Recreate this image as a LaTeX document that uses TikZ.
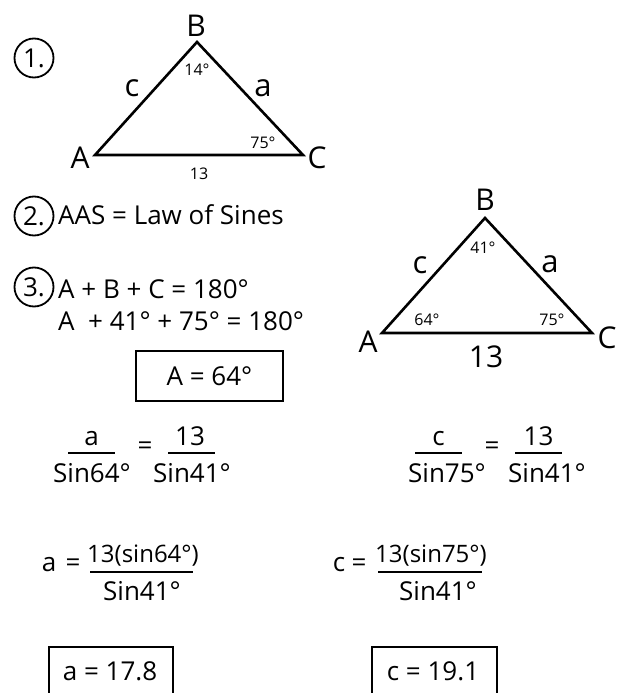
\documentclass[tikz,border=0pt]{standalone}
\usepackage{fontspec}
\setmainfont{Open Sans}

\begin{document}
\begin{tikzpicture}[x=1pt, y=-1pt,
    vtx/.style = {inner sep=0pt, font=\fontsize{30}{32}\selectfont},
    side/.style = {inner sep=0pt, font=\fontsize{31}{33}\selectfont},
    ang/.style = {inner sep=0pt, font=\fontsize{16}{18}\selectfont},
    txt/.style = {inner sep=0pt, font=\fontsize{26}{28}\selectfont},
    numer/.style = {inner sep=0pt, font=\fontsize{24}{26}\selectfont},
    num/.style = {draw, circle, line width=1.8pt, minimum size=39pt, inner sep=0pt, font=\fontsize{26}{28}\selectfont},
    result/.style = {draw, line width=1.8pt, inner sep=0pt},
    tri/.style = {line width=2.6pt, line join=miter},
    bar/.style = {line width=2pt}]
    \useasboundingbox (0,0) rectangle (621,693);

    % step 1: the given triangle
    \node[num] (n1) at (34,58) {1.};
    \coordinate (A1) at (95,155);
    \coordinate (B1) at (197,42);
    \coordinate (C1) at (303,155);
    \draw[tri] (A1) -- (B1) -- (C1) -- cycle;
    \node[vtx] (lA1) at (80,158) {A};
    \node[vtx] (lB1) at (196,26) {B};
    \node[vtx] (lC1) at (317,158) {C};
    \node[side] (lc1) at (132,88) {c};
    \node[side] (la1) at (263,88) {a};
    \node[ang] (ang1) at (197,70) {14°};
    \node[ang] (ang2) at (263,143) {75°};
    \node[ang] (len1) at (199,174) {13};

    % step 2
    \node[num] (n2) at (34,216) {2.};
    \node[txt, anchor=base west] (aas) at (58,224) {AAS = Law of Sines};

    % step 3
    \node[num] (n3) at (34,287) {3.};
    \node[txt, anchor=base west] (sum1) at (58,298) {A + B + C = 180°};
    \node[txt, anchor=base west] (sum2) at (58,330) {A \ + 41° + 75° = 180°};
    \node[result, txt, minimum width=147pt, minimum height=50pt] (resA) at (209.5,376) {A = 64°};

    % solved triangle
    \coordinate (A2) at (382,333);
    \coordinate (B2) at (485,218);
    \coordinate (C2) at (592,333);
    \draw[tri] (A2) -- (B2) -- (C2) -- cycle;
    \node[vtx] (lA2) at (368,342) {A};
    \node[vtx] (lB2) at (485,200) {B};
    \node[vtx] (lC2) at (607,338) {C};
    \node[side] (lc2) at (420,265) {c};
    \node[side] (la2) at (550,264) {a};
    \node[ang] (ang3) at (483,248) {41°};
    \node[ang] (ang4) at (427,320) {64°};
    \node[ang] (ang5) at (552,320) {75°};
    \node[vtx] (len2) at (486,357) {13};

    % law of sines, side a
    \node[txt, anchor=base] (fa1) at (91.5,445) {a};
    \node[txt, anchor=base] (fa2) at (92,482) {Sin64°};
    \draw[bar] (68,453) -- (115,453);
    \node[txt] (eq1) at (145,448) {=};
    \node[txt, anchor=base] (fa3) at (190,445) {13};
    \node[txt, anchor=base] (fa4) at (192,482) {Sin41°};
    \draw[bar] (168,453) -- (215,453);

    % law of sines, side c
    \node[txt, anchor=base] (fc1) at (438.5,445) {c};
    \node[txt, anchor=base] (fc2) at (447,482) {Sin75°};
    \draw[bar] (415,453) -- (462,453);
    \node[txt] (eq2) at (492,448) {=};
    \node[txt, anchor=base] (fc3) at (538.5,445) {13};
    \node[txt, anchor=base] (fc4) at (547,482) {Sin41°};
    \draw[bar] (515,453) -- (562,453);

    % solve for a
    \node[txt] (sa1) at (49,565) {a};
    \node[txt] (sa2) at (73,565) {=};
    \node[numer, anchor=base] (sa3) at (143,562) {13(sin64°)};
    \draw[bar] (90,572) -- (193,572);
    \node[txt, anchor=base] (sa4) at (142,600) {Sin41°};

    % solve for c
    \node[txt] (sc1) at (339,565) {c};
    \node[txt] (sc2) at (359,565) {=};
    \node[numer, anchor=base] (sc3) at (431,562) {13(sin75°)};
    \draw[bar] (378,572) -- (482,572);
    \node[txt, anchor=base] (sc4) at (438,600) {Sin41°};

    % answers
    \node[result, minimum width=124pt, minimum height=64pt, anchor=north] (resa) at (111,646) {};
    \node[txt, anchor=base] (resat) at (110,680) {a = 17.8};
    \node[result, minimum width=125pt, minimum height=64pt, anchor=north] (resc) at (434.5,646) {};
    \node[txt, anchor=base] (resct) at (433,680) {c = 19.1};
\end{tikzpicture}
\end{document}
